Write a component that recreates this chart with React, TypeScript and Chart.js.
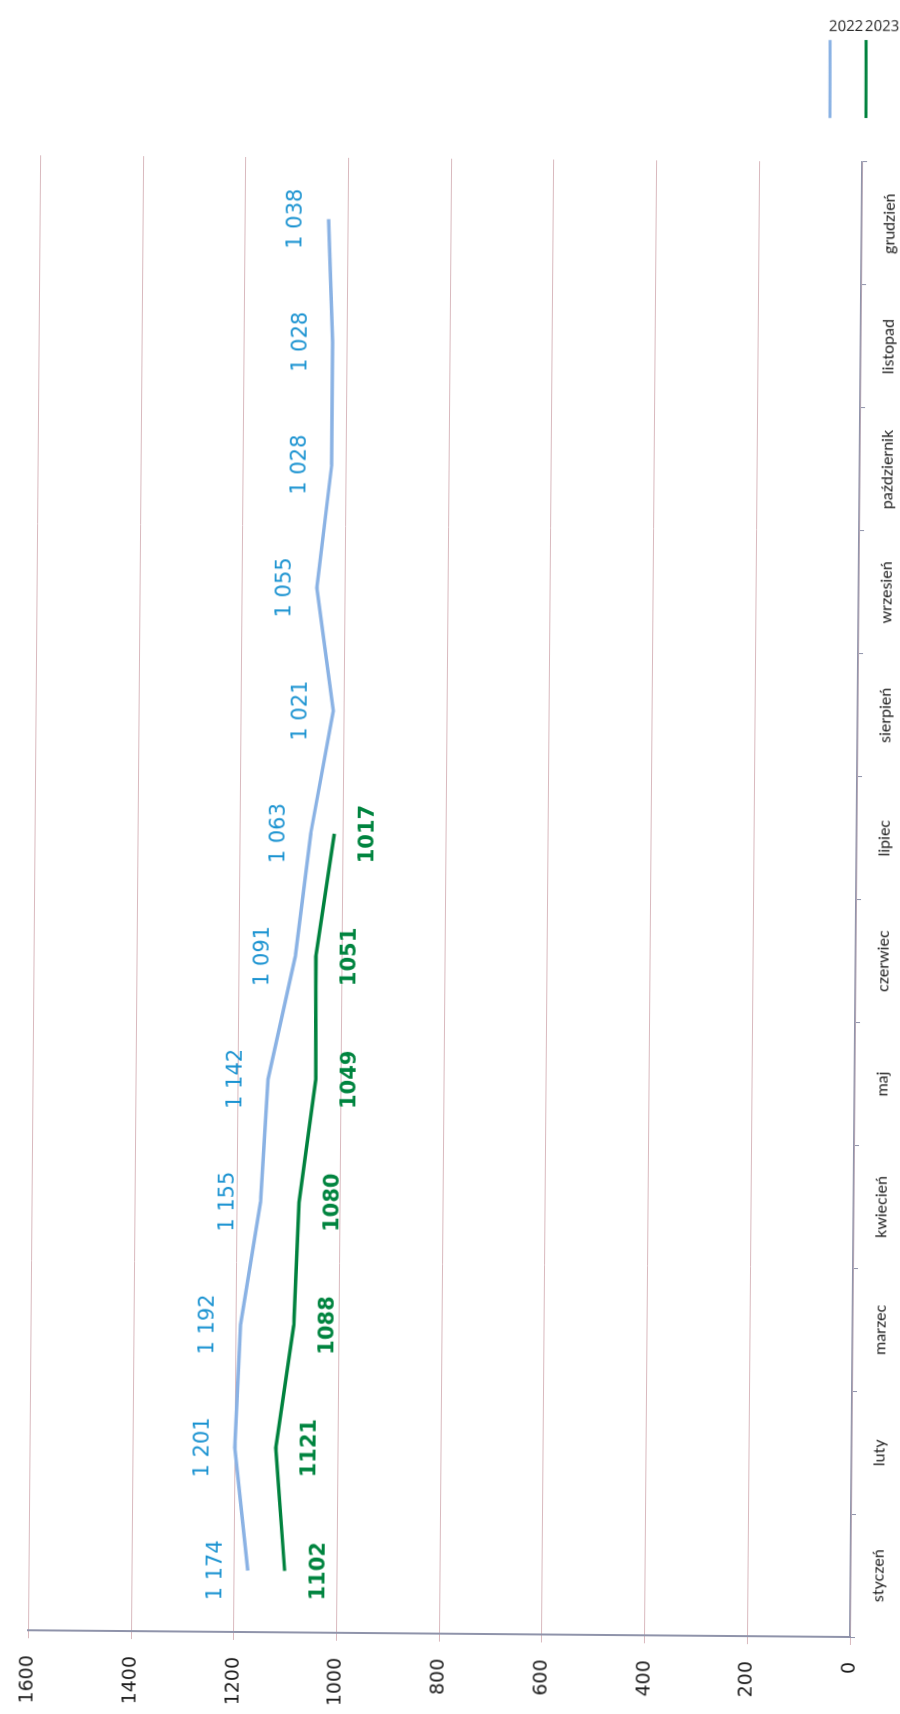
import React, { useEffect, useRef } from 'react';
import { Chart, registerables } from 'chart.js';

Chart.register(...registerables);

// ---------- data ----------
const months = ['styczeń', 'luty', 'marzec', 'kwiecień', 'maj', 'czerwiec', 'lipiec', 'sierpień', 'wrzesień', 'październik', 'listopad', 'grudzień'];
const values2022 = [1174, 1201, 1192, 1155, 1142, 1091, 1063, 1021, 1055, 1028, 1028, 1038];
const values2023 = [1102, 1121, 1088, 1080, 1049, 1051, 1017, null, null, null, null, null];
const seriesNames = ['2022', '2023'];
const valueMin = 0;
const valueMax = 1600;
const valueStep = 200;

// ---------- styles ----------
const COLOR_2022_LINE = '#8ab2e4';
const COLOR_2022_TEXT = '#1b93d1';
const COLOR_2023_LINE = '#00823e';
const COLOR_2023_TEXT = '#00843f';
const GRID_COLOR = '#d9b9be';
const AXIS_COLOR = '#8f93aa';
const TEXT_COLOR = '#1c1c1c';

// landscape canvas, rotated onto the portrait page (scan is tilted slightly)
const CANVAS_W = 1714;
const CANVAS_H = 900;
const ROT_DEG = -89.53;
const ROT = (ROT_DEG * Math.PI) / 180;
const A = Math.cos(ROT);
const B = -Math.sin(ROT);
const AREA_LEFT = 82;
const AREA_BOTTOM = 850;
const TX = 850 - A * AREA_LEFT - B * AREA_BOTTOM;
const TY = 1637 + B * AREA_LEFT - A * AREA_BOTTOM;

function toLandscape(px: number, py: number) {
  const dx = px - TX;
  const dy = py - TY;
  return { x: A * dx - B * dy, y: B * dx + A * dy };
}

function fmtSpace(v: number) {
  return String(v).replace(/\B(?=(\d{3})+(?!\d))/g, ' ');
}

const labelStyles = [
  { font: '21px "DejaVu Sans"', color: COLOR_2022_TEXT, offset: -32, format: fmtSpace },
  { font: 'bold 21px "DejaVu Sans"', color: COLOR_2023_TEXT, offset: 34, format: (v: number) => String(v) },
];

const pointLabelPlugin = {
  id: 'pointLabels',
  afterDatasetsDraw(chart: any) {
    const ctx = chart.ctx;
    chart.data.datasets.forEach((ds: any, i: number) => {
      const meta = chart.getDatasetMeta(i);
      const st = labelStyles[i];
      meta.data.forEach((pt: any, j: number) => {
        const v = ds.data[j];
        if (v == null) return;
        ctx.save();
        ctx.font = st.font;
        ctx.fillStyle = st.color;
        ctx.textAlign = 'center';
        ctx.textBaseline = 'middle';
        ctx.fillText(st.format(v), pt.x, pt.y + st.offset);
        ctx.restore();
      });
    });
  },
};

// legend drawn upright on the portrait page
const legendPlugin = {
  id: 'uprightLegend',
  afterDraw(chart: any) {
    const ctx = chart.ctx;
    chart.data.datasets.forEach((ds: any, i: number) => {
      const textLeft = 829 + i * 36;
      const lineX = textLeft + 1;
      const p1 = toLandscape(lineX, 40);
      const p2 = toLandscape(lineX, 118);
      ctx.save();
      ctx.strokeStyle = ds.borderColor;
      ctx.lineWidth = 3;
      ctx.beginPath();
      ctx.moveTo(p1.x, p1.y);
      ctx.lineTo(p2.x, p2.y);
      ctx.stroke();
      const t = toLandscape(textLeft, 31);
      ctx.translate(t.x, t.y);
      ctx.rotate(-ROT);
      ctx.font = '15px "Open Sans"';
      ctx.fillStyle = TEXT_COLOR;
      ctx.textAlign = 'left';
      ctx.textBaseline = 'alphabetic';
      ctx.fillText(ds.label, 0, 0);
      ctx.restore();
    });
  },
};

export default function App() {
  const ref = useRef<HTMLCanvasElement>(null);

  useEffect(() => {
    const canvas = ref.current;
    if (!canvas) return;
    const chart = new Chart(canvas, {
      type: 'line',
      data: {
        labels: months,
        datasets: [
          {
            label: seriesNames[0],
            data: values2022,
            borderColor: COLOR_2022_LINE,
            backgroundColor: COLOR_2022_LINE,
            borderWidth: 3.5,
            pointRadius: 0,
            tension: 0,
            fill: false,
          },
          {
            label: seriesNames[1],
            data: values2023,
            borderColor: COLOR_2023_LINE,
            backgroundColor: COLOR_2023_LINE,
            borderWidth: 3.5,
            pointRadius: 0,
            tension: 0,
            fill: false,
          },
        ],
      },
      options: {
        responsive: false,
        animation: false,
        devicePixelRatio: 1,
        layout: { padding: { left: 0, right: CANVAS_W - AREA_LEFT - 1475, top: 23, bottom: 0 } },
        plugins: {
          legend: { display: false },
          tooltip: { enabled: false },
        },
        scales: {
          x: {
            type: 'category',
            offset: true,
            grid: {
              display: true,
              drawOnChartArea: false,
              drawTicks: true,
              tickLength: 5,
              offset: true,
              color: AXIS_COLOR,
            },
            border: { display: true, color: AXIS_COLOR, width: 1.5 },
            ticks: {
              color: TEXT_COLOR,
              font: { family: 'Lato', size: 16 },
              padding: 13,
              maxRotation: 0,
              minRotation: 0,
              autoSkip: false,
            },
            afterFit: (scale: any) => {
              scale.height = CANVAS_H - AREA_BOTTOM;
            },
          },
          y: {
            min: valueMin,
            max: valueMax,
            ticks: {
              stepSize: valueStep,
              color: TEXT_COLOR,
              font: { family: '"DejaVu Sans"', size: 19 },
              padding: 17,
              callback: (v: any) => String(v),
            },
            grid: {
              color: GRID_COLOR,
              lineWidth: 1,
              drawTicks: true,
              tickLength: 8,
              tickColor: GRID_COLOR,
            },
            border: { display: true, color: AXIS_COLOR, width: 2 },
            afterFit: (scale: any) => {
              scale.width = AREA_LEFT;
            },
          },
        },
      },
      plugins: [pointLabelPlugin, legendPlugin],
    } as any);
    return () => chart.destroy();
  }, []);

  return (
    <div
      style={{
        position: 'absolute',
        left: 0,
        top: 0,
        width: 900,
        height: 1714,
        overflow: 'hidden',
        background: '#ffffff',
      }}
    >
      <div
        style={{
          position: 'absolute',
          left: 0,
          top: 0,
          width: CANVAS_W,
          height: CANVAS_H,
          transformOrigin: '0 0',
          transform: `translate(${TX}px, ${TY}px) rotate(${ROT_DEG}deg)`,
        }}
      >
        <canvas ref={ref} width={CANVAS_W} height={CANVAS_H} style={{ display: 'block', width: CANVAS_W, height: CANVAS_H }} />
      </div>
    </div>
  );
}
